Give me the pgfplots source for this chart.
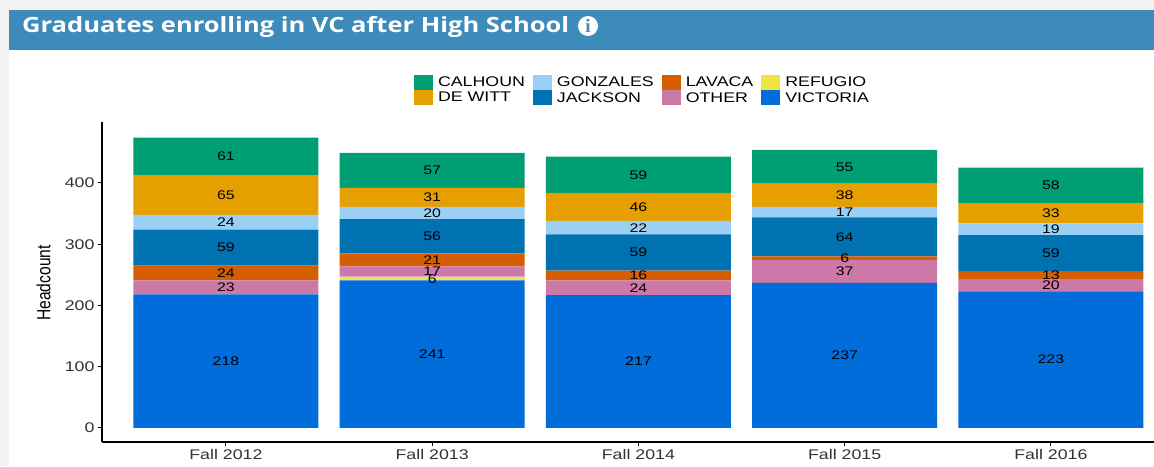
\documentclass[border=0pt]{standalone}
\usepackage{pgfplots}
\usepackage{pgfplotstable}
\usepackage{fontspec}
\pgfplotsset{compat=1.18}
\setmainfont[FakeStretch=1.27]{Liberation Sans}
\newfontfamily\plainfont[FakeStretch=0.82]{Liberation Sans}
\newfontfamily\titlefont[FakeStretch=1.215]{Open Sans}
\newfontfamily\iconfont{Liberation Serif}
\definecolor{cCal}{HTML}{009E73}
\definecolor{cDew}{HTML}{E69F00}
\definecolor{cGon}{HTML}{9AD0F3}
\definecolor{cJac}{HTML}{0072B2}
\definecolor{cLav}{HTML}{D55E00}
\definecolor{cOth}{HTML}{CC79A7}
\definecolor{cRef}{HTML}{F0E442}
\definecolor{cVic}{HTML}{006DDB}
\definecolor{cHead}{HTML}{3D8BBB}
\definecolor{cPage}{HTML}{F2F2F2}
\pgfplotstableread{
x v
0 218
1 241
2 217
3 237
4 223
}\tVic
\pgfplotstableread{
x v
0 0
1 6
2 0
3 0
4 0
}\tRef
\pgfplotstableread{
x v
0 23
1 17
2 24
3 37
4 20
}\tOth
\pgfplotstableread{
x v
0 24
1 21
2 16
3 6
4 13
}\tLav
\pgfplotstableread{
x v
0 59
1 56
2 59
3 64
4 59
}\tJac
\pgfplotstableread{
x v
0 24
1 20
2 22
3 17
4 19
}\tGon
\pgfplotstableread{
x v
0 65
1 31
2 46
3 38
4 33
}\tDew
\pgfplotstableread{
x v
0 61
1 57
2 59
3 55
4 58
}\tCal
\begin{document}
\begin{tikzpicture}[x=1pt,y=1pt]
\useasboundingbox (0,0) rectangle (1154,466);
\fill[cPage] (0,0) rectangle (1154,466);
\fill[white] (9,0) rectangle (1154,416);
\fill[cHead] (9,416) rectangle (1154,456);
\node[anchor=west,text=white,inner sep=0pt,font=\titlefont\bfseries\fontsize{21}{24}\selectfont] at (22,439) {Graduates enrolling in VC after High School};
\node[circle,fill=white,inner sep=0pt,minimum size=20pt,text=cHead,font=\iconfont\bfseries\fontsize{19}{19}\selectfont] at (588,440) {i};
\begin{axis}[
  at={(102pt,24pt)},anchor=south west,
  scale only axis,width=1052pt,height=320pt,
  xmin=-0.601,xmax=4.5,ymin=-22.9,ymax=499.6,
  ybar stacked,bar width=185pt,
  axis x line*=bottom,axis y line*=left,
  axis line style={black,line width=1.4pt,-},
  tick style={black,line width=1pt},
  tick align=outside,
  major tick length=4pt,
  xtick={0,1,2,3,4},
  xticklabels={Fall 2012,Fall 2013,Fall 2014,Fall 2015,Fall 2016},
  ytick={0,100,200,300,400},
  /pgf/number format/assume math mode=true,
  tick label style={text=black!80,font=\fontsize{14}{15}\selectfont},
  ylabel={\plainfont Headcount},
  ylabel style={font=\fontsize{19}{20}\selectfont,at={(axis description cs:0,0.5)},anchor=south,yshift=48pt,xshift=-1pt},
  clip=true,
  legend columns=4,
  legend cell align=left,
  legend style={at={(0.2966,1.147)},anchor=north west,draw=none,fill=none,inner sep=0pt,outer sep=0pt,
     font=\fontsize{14}{15}\selectfont,
     /tikz/every odd column/.append style={column sep=3pt},
     /tikz/every even column/.append style={column sep=6pt}},
  legend image code/.code={\fill[#1] (0,-7.5pt) rectangle (19pt,7.5pt);},
]
\addplot[fill=cVic,draw=none,forget plot] table[x=x,y=v] {\tVic};
\addplot[fill=cRef,draw=none,forget plot] table[x=x,y=v] {\tRef};
\addplot[fill=cOth,draw=none,forget plot] table[x=x,y=v] {\tOth};
\addplot[fill=cLav,draw=none,forget plot] table[x=x,y=v] {\tLav};
\addplot[fill=cJac,draw=none,forget plot] table[x=x,y=v] {\tJac};
\addplot[fill=cGon,draw=none,forget plot] table[x=x,y=v] {\tGon};
\addplot[fill=cDew,draw=none,forget plot] table[x=x,y=v] {\tDew};
\addplot[fill=cCal,draw=none,forget plot] table[x=x,y=v] {\tCal};
\addlegendimage{fill=cCal,draw=none}\addlegendentry{CALHOUN}
\addlegendimage{fill=cGon,draw=none}\addlegendentry{GONZALES}
\addlegendimage{fill=cLav,draw=none}\addlegendentry{LAVACA}
\addlegendimage{fill=cRef,draw=none}\addlegendentry{REFUGIO}
\addlegendimage{fill=cDew,draw=none}\addlegendentry{DE WITT}
\addlegendimage{fill=cJac,draw=none}\addlegendentry{JACKSON}
\addlegendimage{fill=cOth,draw=none}\addlegendentry{OTHER}
\addlegendimage{fill=cVic,draw=none}\addlegendentry{VICTORIA}
\end{axis}
\begin{axis}[
  at={(102pt,24pt)},anchor=south west,
  scale only axis,width=1052pt,height=320pt,
  xmin=-0.601,xmax=4.5,ymin=-22.9,ymax=499.6,
  axis lines=none,clip=false,
  nodes near coords,point meta=explicit symbolic,
  every node near coord/.style={anchor=center,inner sep=0pt,text=black,font=\fontsize{12.5}{14}\selectfont},
]
\addplot[only marks,mark=none] table[x=x,y=y,meta=l] {
x y l
0 109 218
0 229.5 23
0 253 24
0 294.5 59
0 336 24
0 380.5 65
0 443.5 61
1 120.5 241
1 243 6
1 255.5 17
1 274.5 21
1 313 56
1 351 20
1 376.5 31
1 420.5 57
2 108.5 217
2 229 24
2 249 16
2 286.5 59
2 327 22
2 361 46
2 413.5 59
3 118.5 237
3 255.5 37
3 277 6
3 312 64
3 352.5 17
3 380 38
3 426.5 55
4 111.5 223
4 233 20
4 249.5 13
4 285.5 59
4 324.5 19
4 350.5 33
4 396 58
};
\end{axis}
\end{tikzpicture}
\end{document}
